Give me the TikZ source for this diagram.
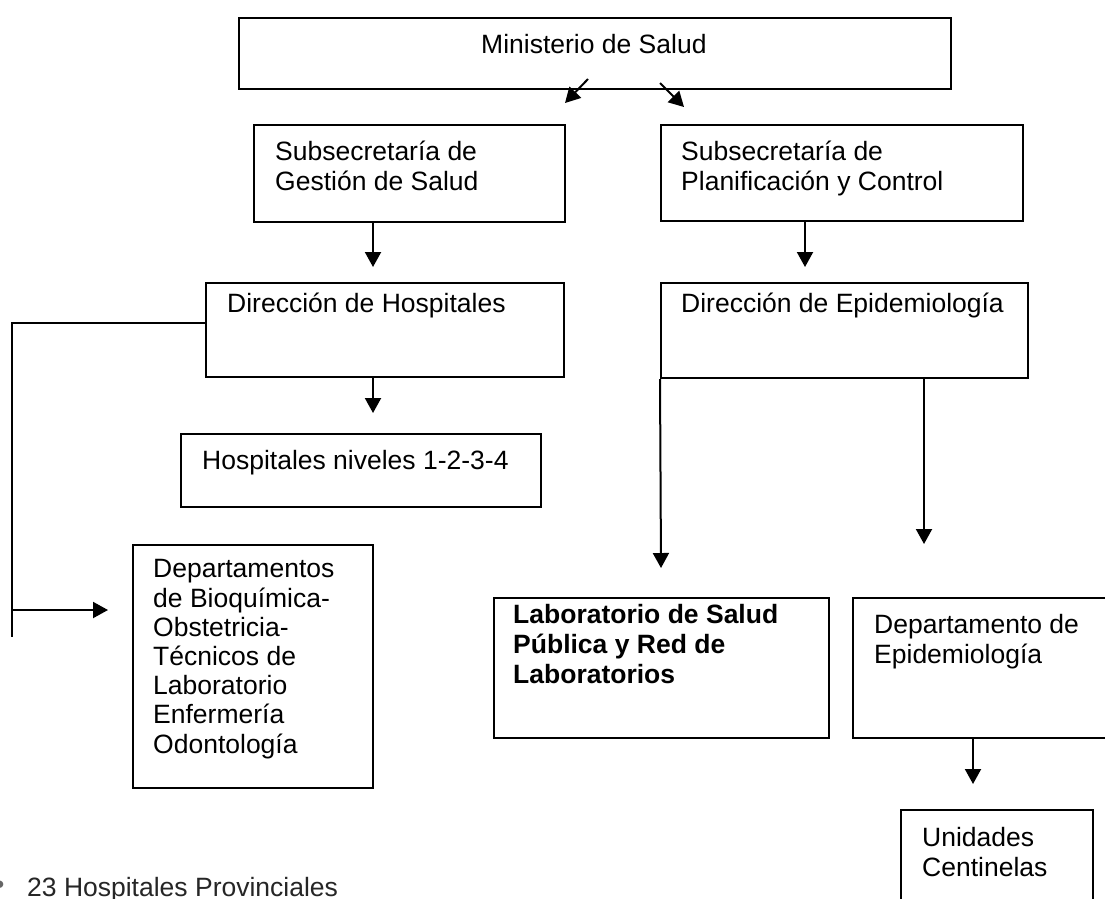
\documentclass[tikz,border=0pt]{standalone}
\usepackage{fontspec}
\setmainfont{Liberation Sans}
\usetikzlibrary{arrows.meta,calc}
\begin{document}
\begin{tikzpicture}[x=1pt,y=-1pt,
  box/.style={draw, line width=2pt, inner sep=0pt, anchor=north west},
  ln/.style={line width=2pt},
  arr/.style={line width=2pt, -{Triangle[width=16pt,length=15pt]}},
  sarr/.style={line width=2pt, -{Triangle[width=16pt,length=15pt]}},
  lbl/.style={inner sep=0pt, anchor=base west, align=left, font=\fontsize{26.5}{29.4}\selectfont},
]
\useasboundingbox (0,0) rectangle (1105,898);
\fill[white] (0,0) rectangle (1105,898);

% boxes
\node[box, minimum width=712pt, minimum height=71pt] (min) at (238,17) {};
\node[box, minimum width=311pt, minimum height=97pt] (gest) at (253,124) {};
\node[box, minimum width=362pt, minimum height=96pt] (plan) at (660,124) {};
\node[box, minimum width=358pt, minimum height=94pt] (dirh) at (205,282) {};
\node[box, minimum width=367pt, minimum height=95pt] (dire) at (660,282) {};
\node[box, minimum width=360pt, minimum height=73pt] (hosp) at (180,433) {};
\node[box, minimum width=240pt, minimum height=243pt] (deps) at (132,544) {};
\node[box, minimum width=335pt, minimum height=140pt] (lab) at (493,597) {};
\node[box, minimum width=270pt, minimum height=140pt] (depe) at (852,597) {};
\node[box, minimum width=192pt, minimum height=120pt] (uni) at (900,809) {};

% texts (multi-line nodes: anchor at baseline of last line)
\node[lbl] (tmin) at (481,53) {Ministerio de Salud};
\node[lbl] (tgest) at (275,190) {Subsecretaría de\\Gestión de Salud};
\node[lbl] (tplan) at (681,190) {Subsecretaría de\\Planificación y Control};
\node[lbl] (tdirh) at (227,312) {Dirección de Hospitales};
\node[lbl] (tdire) at (681,312) {Dirección de Epidemiología};
\node[lbl] (thosp) at (202,469) {Hospitales niveles 1-2-3-4};
\node[lbl, font=\fontsize{26.5}{29.2}\selectfont] (tdeps) at (153,753) {Departamentos\\de Bioquímica-\\Obstetricia-\\Técnicos de\\Laboratorio\\Enfermería\\Odontología};
\node[lbl, font=\fontsize{26.5}{30}\selectfont\bfseries] (tlab) at (513,683) {Laboratorio de Salud\\Pública y Red de\\Laboratorios};
\node[lbl] (tdepe) at (874,663) {Departamento de\\Epidemiología};
\node[lbl] (tuni) at (922,876) {Unidades\\Centinelas};
\node[lbl, text=black!60] (bul) at (-5,893) {•};
\node[lbl, text=black!85] (tprov) at (27,896) {23 Hospitales Provinciales};

% diagonal arrows from Ministerio
\coordinate (d1s) at (588,79);
\coordinate (d1e) at (565,103);
\coordinate (d2s) at (660,83);
\coordinate (d2e) at (684,107);
\draw[sarr] (d1s) -- (d1e);
\draw[sarr] (d2s) -- (d2e);

% vertical arrows
\coordinate (a1) at (373,267);
\draw[arr] (a1 |- gest.south) -- (a1);
\coordinate (a2) at (805,267);
\draw[arr] (a2 |- plan.south) -- (a2);
\coordinate (a3) at (373,413);
\draw[arr] (a3 |- dirh.south) -- (a3);
\coordinate (a4) at (661,568);
\draw[arr] (dire.south west) -- (a4);
\coordinate (a5) at (924,544);
\draw[arr] (a5 |- dire.south) -- (a5);
\coordinate (a6) at (973,784);
\draw[arr] (a6 |- depe.south) -- (a6);

% left connector
\coordinate (lc) at (12,323);
\coordinate (lend) at (12,637);
\coordinate (lb) at (12,610);
\coordinate (lt) at (108,610);
\draw[ln] (lc -| dirh.west) -- (lc) -- (lend);
\draw[arr] (lb) -- (lt);
\end{tikzpicture}
\end{document}
